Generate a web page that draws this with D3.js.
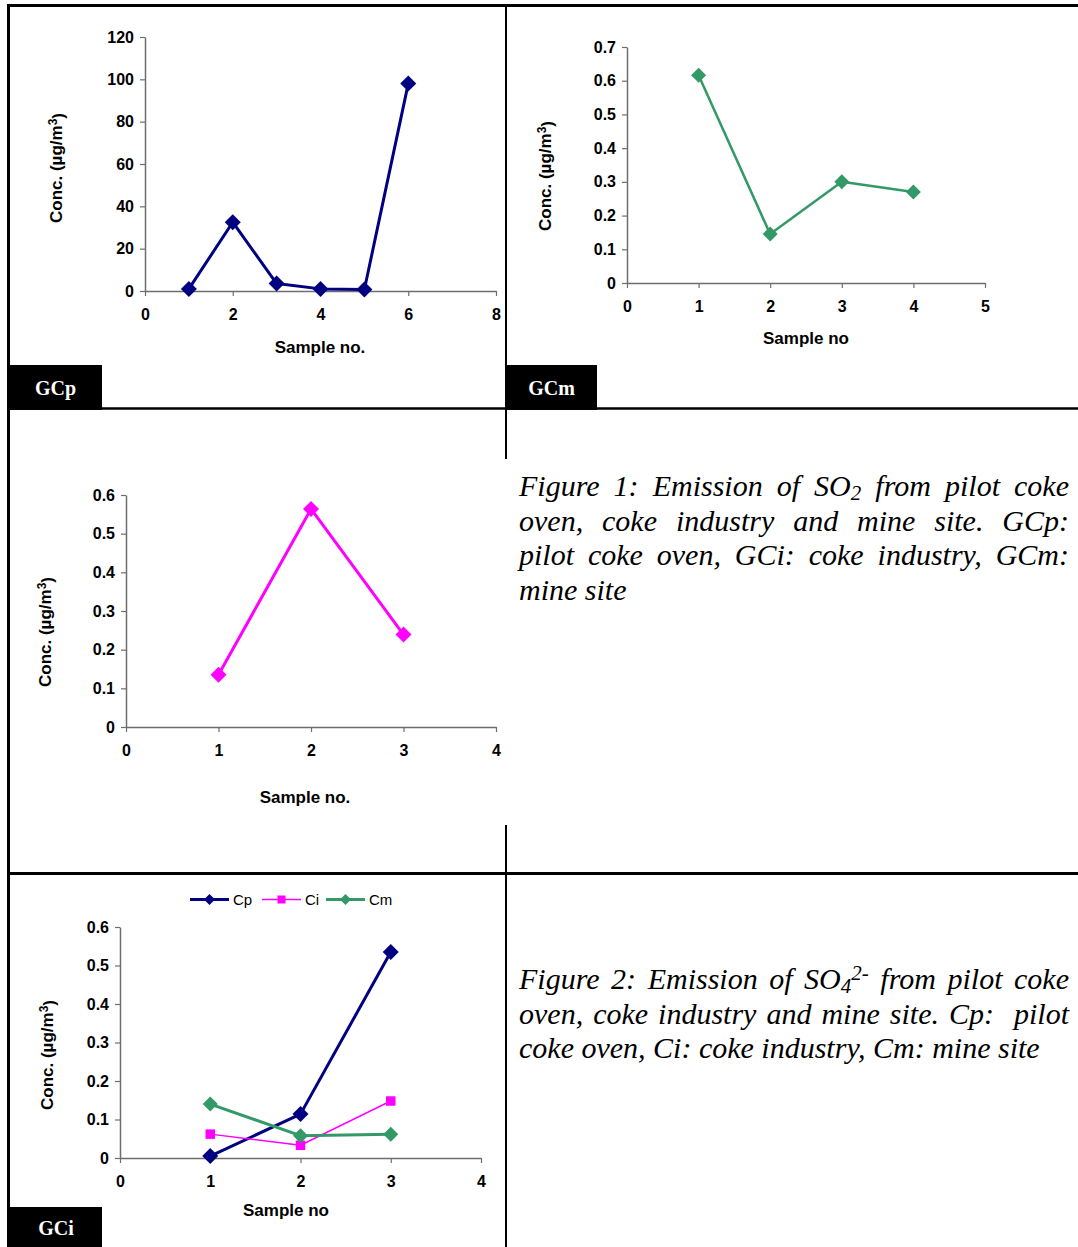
<!DOCTYPE html>
<html>
<head>
<meta charset="utf-8">
<script src="https://cdn.jsdelivr.net/npm/d3@7"></script>
<style>
  html, body { margin: 0; padding: 0; background: #fff; }
  #wrap { position: relative; width: 1078px; height: 1247px; overflow: hidden; }
  svg { position: absolute; left: 0; top: 0; }
  .cap { position: absolute; font-family: "Liberation Serif", "Times New Roman", serif; font-style: italic;
         font-size: 30px; line-height: 34.5px; color: #000; width: 550px; }
  .cap div { text-align: justify; text-align-last: justify; white-space: nowrap; }
  .cap div.last { text-align-last: left; }
  .cap sub { font-size: 0.7em; vertical-align: -0.2em; line-height: 0; }
  .cap sup { font-size: 0.7em; vertical-align: 0.45em; line-height: 0; }
</style>
</head>
<body>
<div id="wrap"></div>
<script>
// ---------------- DATA ----------------
const gcpSamples = [1, 2, 3, 4, 5, 6];
const gcpValues  = [1, 32.5, 3.5, 1, 0.7, 98];
const gcpXTicks  = [0, 2, 4, 6, 8];
const gcpYTicks  = [0, 20, 40, 60, 80, 100, 120];

const gcmSamples = [1, 2, 3, 4];
const gcmValues  = [0.616, 0.145, 0.300, 0.270];
const gcmXTicks  = [0, 1, 2, 3, 4, 5];
const gcmYTicks  = [0, 0.1, 0.2, 0.3, 0.4, 0.5, 0.6, 0.7];

const gciSamples = [1, 2, 3];
const gciValues  = [0.135, 0.564, 0.239];
const gciXTicks  = [0, 1, 2, 3, 4];
const gciYTicks  = [0, 0.1, 0.2, 0.3, 0.4, 0.5, 0.6];

const so4Samples = [1, 2, 3];
const cpValues   = [0.005, 0.114, 0.535];
const ciValues   = [0.062, 0.033, 0.148];
const cmValues   = [0.140, 0.058, 0.062];
const so4Series  = ["Cp", "Ci", "Cm"];
const so4XTicks  = [0, 1, 2, 3, 4];
const so4YTicks  = [0, 0.1, 0.2, 0.3, 0.4, 0.5, 0.6];

const NAVY = "#000080", MAGENTA = "#FF00FF", GREEN = "#339966";
const SANS = "'Liberation Sans', Arial, sans-serif";
const SERIF = "'Liberation Serif', 'Times New Roman', serif";

// ---------------- SVG ----------------
const W = 1078, H = 1247;
const wrap = d3.select("#wrap");
const svg = wrap.append("svg").attr("width", W).attr("height", H);

// layout frame
const frame = svg.append("g").attr("stroke", "#000").attr("fill", "none");
frame.append("line").attr("x1", 7).attr("x2", W).attr("y1", 5.5).attr("y2", 5.5).attr("stroke-width", 3);
frame.append("line").attr("x1", 8.5).attr("x2", 8.5).attr("y1", 4).attr("y2", H).attr("stroke-width", 3);
frame.append("line").attr("x1", 7).attr("x2", W).attr("y1", 408.5).attr("y2", 408.5).attr("stroke-width", 2.5);
frame.append("line").attr("x1", 7).attr("x2", W).attr("y1", 873.5).attr("y2", 873.5).attr("stroke-width", 3);
frame.append("line").attr("x1", 506).attr("x2", 506).attr("y1", 4).attr("y2", 459).attr("stroke-width", 2);
frame.append("line").attr("x1", 506).attr("x2", 506).attr("y1", 825).attr("y2", H).attr("stroke-width", 2);

function labelBox(x, y, w, h, text) {
  svg.append("rect").attr("x", x).attr("y", y).attr("width", w).attr("height", h).attr("fill", "#000");
  svg.append("text").attr("x", x + w / 2).attr("y", y + h / 2 + 7)
    .attr("text-anchor", "middle").attr("fill", "#fff")
    .style("font-family", SERIF).style("font-weight", "bold").style("font-size", "20px")
    .text(text);
}

function diamond(r) { return `M0,${-r}L${r},0L0,${r}L${-r},0Z`; }
function square(s) { return `M${-s/2},${-s/2}h${s}v${s}h${-s}Z`; }

function yTitle(g, cx, cy) {
  const t = g.append("text").attr("transform", `translate(${cx},${cy}) rotate(-90)`)
    .attr("text-anchor", "middle").attr("dy", "0.36em")
    .style("font-family", SANS).style("font-weight", "bold").style("font-size", "17px").attr("fill", "#000");
  t.append("tspan").text("Conc. (µg/m");
  t.append("tspan").attr("dy", "-0.45em").style("font-size", "12px").text("3");
  t.append("tspan").attr("dy", "0.45em").text(")");
}

function chart(o) {
  const g = svg.append("g");
  const x = d3.scaleLinear().domain([o.xTicks[0], o.xTicks[o.xTicks.length - 1]]).range([o.left, o.right]);
  const y = d3.scaleLinear().domain([o.yTicks[0], o.yTicks[o.yTicks.length - 1]]).range([o.bottom, o.top]);

  const fmt = d => String(d);
  const ax = g.append("g").attr("transform", `translate(0,${o.bottom})`)
    .call(d3.axisBottom(x).tickValues(o.xTicks).tickSize(5).tickSizeOuter(0).tickPadding(6).tickFormat(fmt));
  const ay = g.append("g").attr("transform", `translate(${o.left},0)`)
    .call(d3.axisLeft(y).tickValues(o.yTicks).tickSize(5).tickSizeOuter(0).tickPadding(6).tickFormat(fmt));
  [ax, ay].forEach(a => {
    a.selectAll("path.domain").attr("stroke", "#6e6e6e").attr("stroke-width", 1.5);
    a.selectAll(".tick line").attr("stroke", "#6e6e6e").attr("stroke-width", 1.2);
    a.selectAll(".tick text").attr("fill", "#000")
      .style("font-family", SANS).style("font-weight", "bold").style("font-size", "16px");
  });
  ax.selectAll(".tick text").attr("dy", "1.12em");

  o.series.forEach(s => {
    const pts = o.samples.map((d, i) => [d, s.values[i]]);
    g.append("path").datum(pts)
      .attr("fill", "none").attr("stroke", s.color).attr("stroke-width", s.width)
      .attr("stroke-linejoin", "round")
      .attr("d", d3.line().x(d => x(d[0])).y(d => y(d[1])));
    g.selectAll(null).data(pts).enter().append("path")
      .attr("transform", d => `translate(${x(d[0])},${y(d[1])})`)
      .attr("d", s.marker).attr("fill", s.color);
  });

  g.append("text").attr("x", o.xTitle[0]).attr("y", o.xTitle[1]).attr("text-anchor", "middle")
    .style("font-family", SANS).style("font-weight", "bold").style("font-size", "17px")
    .text(o.xLabel);
  yTitle(g, o.yTitle[0], o.yTitle[1]);
  return { g, x, y };
}

// Chart GCp (SO2 pilot coke oven)
chart({
  left: 145, right: 496, top: 37, bottom: 291,
  xTicks: gcpXTicks, yTicks: gcpYTicks, samples: gcpSamples,
  series: [{ values: gcpValues, color: NAVY, width: 3, marker: diamond(8) }],
  xLabel: "Sample no.", xTitle: [320, 353], yTitle: [56, 168]
});

// Chart GCm (SO2 mine site)
chart({
  left: 627, right: 985, top: 47, bottom: 283,
  xTicks: gcmXTicks, yTicks: gcmYTicks, samples: gcmSamples,
  series: [{ values: gcmValues, color: GREEN, width: 2.5, marker: diamond(7.5) }],
  xLabel: "Sample no", xTitle: [806, 344], yTitle: [545, 176]
});

// Chart GCi (SO2 coke industry)
chart({
  left: 126, right: 496, top: 495, bottom: 727,
  xTicks: gciXTicks, yTicks: gciYTicks, samples: gciSamples,
  series: [{ values: gciValues, color: MAGENTA, width: 3, marker: diamond(8) }],
  xLabel: "Sample no.", xTitle: [305, 803], yTitle: [45, 632]
});

// Chart SO4 (three series)
const so4Defs = [
  { name: so4Series[0], values: cpValues, color: NAVY, width: 3, marker: diamond(8) },
  { name: so4Series[1], values: ciValues, color: MAGENTA, width: 1.5, marker: square(9.5) },
  { name: so4Series[2], values: cmValues, color: GREEN, width: 3, marker: diamond(7.5) }
];
chart({
  left: 120, right: 481, top: 927, bottom: 1158,
  xTicks: so4XTicks, yTicks: so4YTicks, samples: so4Samples,
  series: so4Defs,
  xLabel: "Sample no", xTitle: [286, 1216], yTitle: [47, 1055]
});

// legend
const leg = svg.append("g");
const legX = [190, 262, 326];
so4Defs.forEach((s, i) => {
  const lx = legX[i], ly = 899.5;
  leg.append("line").attr("x1", lx).attr("x2", lx + 39).attr("y1", ly).attr("y2", ly)
    .attr("stroke", s.color).attr("stroke-width", s.width);
  leg.append("path").attr("transform", `translate(${lx + 19.5},${ly})`)
    .attr("d", i === 1 ? square(8) : diamond(5.5)).attr("fill", s.color);
  leg.append("text").attr("x", lx + 43).attr("y", ly + 5.5)
    .style("font-family", SANS).style("font-size", "15px").text(s.name);
});

// label boxes
labelBox(9, 365, 93, 45, "GCp");
labelBox(506, 365, 91, 45, "GCm");
labelBox(10, 1207, 92, 42, "GCi");

// captions (real HTML text, justified lines)
const cap1 = [
  "Figure 1: Emission of SO<sub>2</sub> from pilot coke",
  "oven, coke industry and mine site. GCp:",
  "pilot coke oven, GCi: coke industry, GCm:",
  "mine site"
];
const cap2 = [
  "Figure 2: Emission of SO<sub>4</sub><sup>2-</sup> from pilot coke",
  "oven, coke industry and mine site. Cp: &nbsp;pilot",
  "coke oven, Ci: coke industry, Cm: mine site"
];
function caption(lines, left, top) {
  const c = wrap.append("div").attr("class", "cap").style("left", left + "px").style("top", top + "px");
  lines.forEach((l, i) => {
    c.append("div").attr("class", i === lines.length - 1 ? "last" : null).html(l);
  });
}
caption(cap1, 519, 469);
caption(cap2, 519, 962);
</script>
</body>
</html>
